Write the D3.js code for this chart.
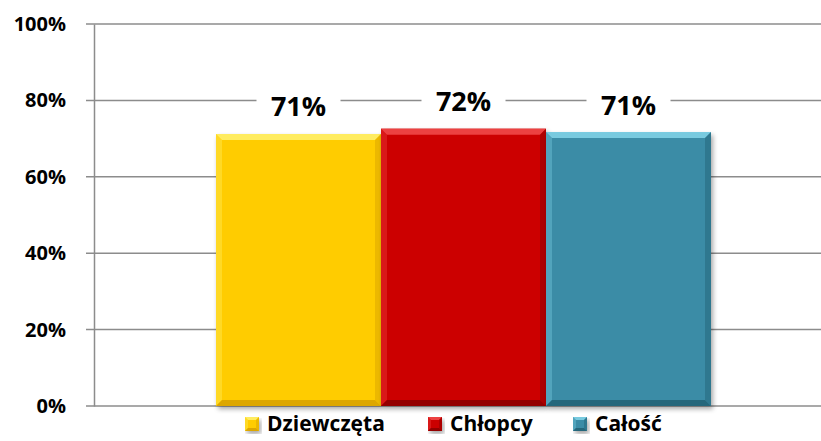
<!DOCTYPE html>
<html>
<head>
<meta charset="utf-8">
<script src="https://cdn.jsdelivr.net/npm/d3@7"></script>
<style>
  body { margin: 0; background: #fff; }
  svg { font-family: "Open Sans", "Noto Sans", sans-serif; font-weight: bold; }
</style>
</head>
<body>
<svg id="chart" width="821" height="441"></svg>
<script>
// dane
const series = ["Dziewczęta", "Chłopcy", "Całość"];
const values = [71.2, 72.6, 71.7];
const labels = ["71%", "72%", "71%"];
const yTicks = [0, 20, 40, 60, 80, 100];
const colors = ["#FFCC00", "#CC0000", "#3A8CA6"];
const light = ["#FFF06A", "#F04848", "#7FD0E6"];
const dark = ["#D9A300", "#8E0000", "#236377"];

const margin = {top: 24, right: 0, bottom: 35, left: 94};
const width = 821 - margin.left - margin.right;
const height = 441 - margin.top - margin.bottom;

const svg = d3.select("#chart")
  .append("g")
  .attr("transform", "translate(" + margin.left + "," + margin.top + ")");

const y = d3.scaleLinear().domain([0, 100]).range([height, 0]);
const x = d3.scaleBand().domain(series).range([122, 617]).padding(0);

// siatka
svg.append("g")
  .selectAll("line")
  .data(yTicks)
  .enter().append("line")
  .attr("x1", -8).attr("x2", width)
  .attr("y1", d => y(d)).attr("y2", d => y(d))
  .attr("stroke", "#8c8c8c").attr("stroke-width", 1.5);

const yAxis = d3.axisLeft(y).tickValues(yTicks).tickSize(0).tickPadding(28)
  .tickFormat(d => d + "%");
svg.append("g")
  .call(yAxis)
  .call(g => g.select(".domain").attr("stroke", "#8c8c8c").attr("stroke-width", 1.5))
  .selectAll("text")
  .style("font-size", "20px")
  .style("font-weight", "bold")
  .style("font-family", "'Open Sans', sans-serif")
  .attr("fill", "#000");

// cien
const defs = d3.select("#chart").append("defs");
const f = defs.append("filter").attr("id", "sh").attr("x", "-10%").attr("y", "-10%").attr("width", "130%").attr("height", "130%");
f.append("feGaussianBlur").attr("in", "SourceAlpha").attr("stdDeviation", 2.5);
f.append("feOffset").attr("dx", 2).attr("dy", 3).attr("result", "b");
f.append("feComponentTransfer").append("feFuncA").attr("type", "linear").attr("slope", 0.35);
const fm = f.append("feMerge");
fm.append("feMergeNode");
fm.append("feMergeNode").attr("in", "SourceGraphic");

function bevel(g, x0, y0, w, h, i, b) {
  g.append("rect").attr("x", x0).attr("y", y0).attr("width", w).attr("height", h)
    .attr("fill", colors[i]).attr("filter", "url(#sh)");
  const x1 = x0 + w, y1 = y0 + h;
  g.append("polygon").attr("points", [[x0, y0], [x1, y0], [x1 - b, y0 + b], [x0 + b, y0 + b]].join(" "))
    .attr("fill", light[i]).attr("opacity", 0.9);
  g.append("polygon").attr("points", [[x0, y0], [x0 + b, y0 + b], [x0 + b, y1 - b], [x0, y1]].join(" "))
    .attr("fill", light[i]).attr("opacity", 0.35);
  g.append("polygon").attr("points", [[x0, y1], [x0 + b, y1 - b], [x1 - b, y1 - b], [x1, y1]].join(" "))
    .attr("fill", dark[i]).attr("opacity", 0.9);
  g.append("polygon").attr("points", [[x1, y0], [x1, y1], [x1 - b, y1 - b], [x1 - b, y0 + b]].join(" "))
    .attr("fill", dark[i]).attr("opacity", 0.5);
}

const bars = svg.append("g");
series.forEach((s, i) => {
  bevel(bars, x(s), y(values[i]), x.bandwidth(), height - y(values[i]), i, 6);
});

// etykiety
const lab = svg.append("g");
series.forEach((s, i) => {
  const cx = x(s) + x.bandwidth() / 2;
  const cy = y(values[i]) - 27;
  lab.append("rect").attr("x", cx - 42).attr("y", cy - 17).attr("width", 84).attr("height", 34).attr("fill", "#fff");
  lab.append("text").attr("x", cx).attr("y", cy).attr("dy", "0.35em")
    .attr("text-anchor", "middle").style("font-size", "27px").text(labels[i]);
});

// legenda
const legX = [151, 334, 479];
const leg = svg.append("g").attr("transform", "translate(0," + (height + 18) + ")");
series.forEach((s, i) => {
  const g = leg.append("g").attr("transform", "translate(" + legX[i] + ",0)");
  bevel(g, 0, -7, 14, 14, i, 3);
  g.append("text").attr("x", 22).attr("y", 0).attr("dy", "0.35em")
    .style("font-size", "21px").text(s);
});
</script>
</body>
</html>
